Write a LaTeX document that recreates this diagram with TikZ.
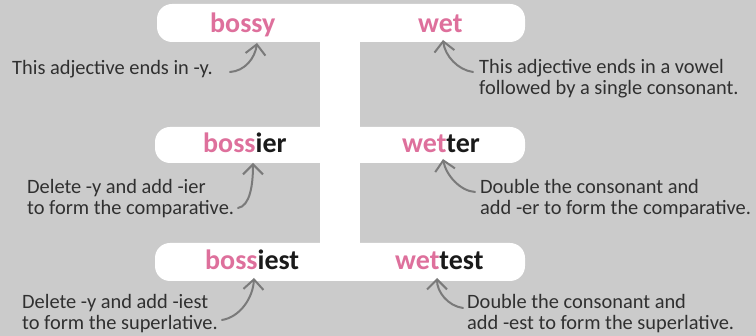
\documentclass[tikz,border=0pt]{standalone}
\usepackage{fontspec}
\setmainfont{Carlito}
\usetikzlibrary{arrows.meta}
\definecolor{bg}{RGB}{203,203,203}
\definecolor{rosy}{RGB}{222,112,156}
\definecolor{ink}{RGB}{26,26,26}
\definecolor{textdark}{RGB}{48,48,48}
\definecolor{arrowgray}{RGB}{122,122,122}
\begin{document}
\begin{tikzpicture}[x=1pt,y=-1pt,
  bar/.style={fill=white, rounded corners=15pt},
  word/.style={anchor=base west, inner sep=0pt, font=\fontsize{28}{30}\selectfont\bfseries},
  note/.style={anchor=base west, inner sep=0pt, align=left, text=textdark, font=\fontsize{20.4}{21}\selectfont},
  callout/.style={draw=arrowgray, line width=2pt, line cap=round, -{Straight Barb[length=10pt,width=20pt]}}
]
\fill[bg] (0,0) rectangle (756,336);
\useasboundingbox (0,0) rectangle (756,336);
% white frame
\fill[white] (320,40) rectangle (360,245);
\fill[bar] (157,4) rectangle (525,42);
\fill[bar] (155,127) rectangle (525,163);
\fill[bar] (155,243) rectangle (525,281);
% words
\node[word, text=rosy] (bossy) at (210,33) {bossy};
\node[word, text=rosy] (wet) at (418,33) {wet};
\node[word] (bossier) at (203,153) {\textcolor{rosy}{boss}\textcolor{ink}{ier}};
\node[word] (wetter) at (402,153) {\textcolor{rosy}{wet}\textcolor{ink}{ter}};
\node[word] (bossiest) at (205,270) {\textcolor{rosy}{boss}\textcolor{ink}{iest}};
\node[word] (wettest) at (395,270) {\textcolor{rosy}{wet}\textcolor{ink}{test}};
% notes (base anchor = baseline of last line)
\node[note] (n1) at (12,75) {This adjective ends in -y.};
\node[note] (n2) at (479,95) {This adjective ends in a vowel\\followed by a single consonant.};
\node[note] (n3) at (27,215) {Delete -y and add -ier\\to form the comparative.};
\node[note] (n4) at (480,215) {Double the consonant and\\add -er to form the comparative.};
\node[note] (n5) at (22,330) {Delete -y and add -iest\\to form the superlative.};
\node[note] (n6) at (467,330) {Double the consonant and\\add -est to form the superlative.};
% callout ends
\coordinate (t1) at (230,72);  \coordinate (h1) at (257,43);
\coordinate (t2) at (473,72);  \coordinate (h2) at (443,40);
\coordinate (t3) at (238,208); \coordinate (h3) at (253,163);
\coordinate (t4) at (475,192); \coordinate (h4) at (443,159);
\coordinate (t5) at (222,320); \coordinate (h5) at (254,278);
\coordinate (t6) at (463,308); \coordinate (h6) at (437,278);
\draw[callout] (t1) .. controls +(15,-1) and +(-2,15) .. (h1);
\draw[callout] (t2) .. controls +(-15,-2) and +(2,16) .. (h2);
\draw[callout] (t3) .. controls +(12,-2) and +(0,22) .. (h3);
\draw[callout] (t4) .. controls +(-15,-1) and +(3,16) .. (h4);
\draw[callout] (t5) .. controls +(18,-3) and +(-1,20) .. (h5);
\draw[callout] (t6) .. controls +(-15,-2) and +(0,14) .. (h6);
\end{tikzpicture}
\end{document}
